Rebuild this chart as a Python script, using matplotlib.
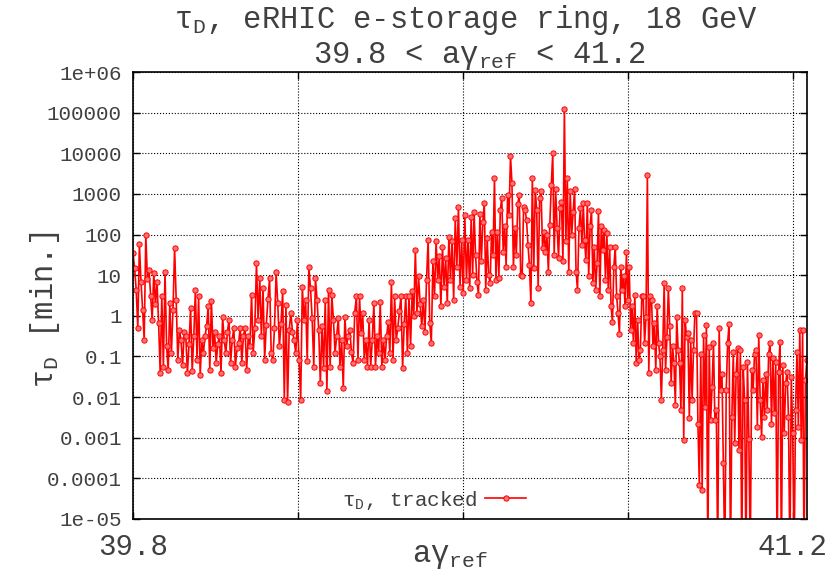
import numpy as np
import matplotlib
matplotlib.use('Agg')
import matplotlib.pyplot as plt

# tracked depolarization time in pieces (log10 of minutes)
# each piece: first aγ, last aγ, values in between at even steps
seg1_lim = (39.8000, 40.0342)
seg1_log = [1.54, 1.17, 0.64, -0.3, 1.76, 0.84, 0.15, -0.59, 2.0, 0.9,
            1.13, 0.5, -0.1, 1.05, 0.3, 0.84, -0.18, -1.41, 0.48, -1.25,
            1.09, -0.75, -1.33, 0.31, -0.92, 0.15, 1.66, 0.39, -1.08, -0.34,
            -0.6, -1.2, -0.4, -0.5, -1.41, -0.7, 0.19, -1.37, -0.5, 0.64,
            -1.08, 0.48, -1.45, -0.6, -0.92, -0.5, -0.26, 0.23, -1.33, 0.37,
            -0.8, -0.4, -1.16, -0.7, -0.5, -1.41, -0.02, -0.6, -0.92, -0.4,
            -0.1, -1.16, -0.6, -0.3, -1.25, -0.8, -0.67, -0.3, -1.16, -0.5]

seg2_lim = (40.0376, 40.2773)
seg2_log = [-0.3, -1.33, -0.5, -0.75, 0.52, -0.92, -0.3, 1.3, -0.1, 0.93,
            -0.5, 0.68, -1.08, -0.22, 0.41, 0.93, -0.92, -1.08, -0.3, 1.07,
            0.31, -0.75, -0.2, 0.6, -2.07, 0.27, -2.13, -0.34, 0.08, -0.4,
            -0.59, -0.92, -0.1, -1.08, -2.07, 0.72, -0.1, 0.39, -1.12, 1.21,
            0.68, -0.06, -1.25, 0.93, 0.39, -0.34, -1.66, -0.26, -1.29, 0.39,
            -1.86, 0.64, -1.25, 0.52, -0.1, -0.92, -0.5, -0.06, -1.25, -0.6,
            -1.78, -0.02, -0.75, -0.5, -0.34, -0.9, -1.16, 0.07, 0.48, -1.08]

seg3_lim = (40.2805, 40.5107)
seg3_log = [0.48, -0.43, 0.07, -1.08, -0.59, -1.25, -0.1, -1.25, -0.6, 0.31,
            -1.25, -0.5, -0.92, 0.34, -1.25, -0.59, -1.08, -0.5, -0.14, -0.92,
            0.82, -1.08, 0.48, -0.59, -0.3, 0.11, 0.48, -1.29, -0.2, 0.48,
            -0.92, 0.48, -0.75, 0.6, 0.0, 1.62, 0.07, 0.97, 0.3, -0.26,
            0.39, -0.39, 0.89, 1.87, -0.18, -0.67, 1.34, 0.48, 1.83, 0.89,
            1.46, 0.23, 1.7, 0.72, 1.42, 0.31, 1.95, 0.89, 1.83, 0.39,
            2.4, 1.21, 2.69, 0.72, 1.87, 0.56, 2.48, 0.89, 1.87]

seg4_lim = (40.5143, 40.7553)
seg4_log = [0.68, 2.44, 1.0, 2.56, 1.5, 0.84, 0.52, 2.5, 1.34, 2.32,
            2.77, 0.64, 1.91, 1.0, 0.8, 2.07, 1.5, 3.4, 0.89, 2.07,
            0.93, 2.6, 2.9, 1.58, 2.2, 1.21, 2.98, 2.48, 3.94, 3.26,
            1.21, 2.16, 1.5, 2.75, 2.98, 1.0, 0.97, 2.69, 2.6, 2.36,
            1.75, 1.25, 0.31, 3.4, 1.17, 3.1, 2.6, 0.68, 2.89, 3.06,
            1.66, 2.07, 1.58, 1.99, 1.09, 2.24, 3.22, 4.0, 1.5, 3.11,
            2.16, 1.42, 2.65, 2.81, 1.34, 5.09, 1.83, 3.4, 1.09, 3.06,
            1.99, 2.56, 3.12, 1.09, 0.64, 2.16, 2.65, 1.75, 2.77]

seg5_lim = (40.7578, 40.9920)
seg5_log = [1.87, 1.38, 2.77, 0.97, 2.2, 2.61, 0.8, 1.7, 0.64, 1.3,
            2.58, 0.48, 2.2, 1.62, 2.11, 0.89, 2.03, 0.64, 1.7, 0.23,
            -0.14, 1.21, 1.7, 0.48, 0.07, -0.45, 1.21, 0.64, 0.97, 0.23,
            1.57, 0.39, 1.21, -0.34, 0.23, -0.67, 0.52, -1.16, -0.1, -1.08,
            -0.84, 0.48, 0.48, -0.67, -0.02, 3.47, -1.41, 0.48, 0.39, -0.75,
            -0.18, -1.33, 0.23, -0.67, -1.0, -2.07, -0.84, 0.8, -1.33, -0.51,
            0.68, -0.26, -1.66, -0.75, -1.16, -2.19, -0.02, -0.84, -1.16, -2.31,
            0.68, -3.05, -0.1, -0.51, -0.43, -2.52, -0.59, -2.07, -0.84, 0.07]

# -6 = below the 1e-05 floor of the plot
seg6_lim = (40.9954, 41.2295)
seg6_log = [0.06, -2.65, -4.16, -0.93, -4.29, -0.48, -2.24, -0.23, -6, -0.76,
            -2.57, -1.75, -0.68, -2.57, -2.32, -6, -0.31, -1.83, -1.42, -3.63,
            -6, -1.83, -0.68, -0.19, -6, -2.48, -0.89, -3.14, -1.42, -0.8,
            -3.3, -0.84, -6, -1.25, -2.07, -6, -1.13, -3.02, -6, -1.34,
            -1.83, -0.93, -0.84, -2.73, -0.48, -2.07, -2.98, -1.58, -2.48, -1.42,
            -2.32, -0.93, -0.68, -2.65, -1.05, -2.4, -1.13, -6, -1.38, -0.64,
            -6, -1.21, -2.89, -1.66, -1.38, -2.48, -6, -1.5, -2.89, -6,
            -2.32, -0.89, -2.73, -0.34, -3.06, -0.34, -6, -1.58, -1.09]

segments = [(seg1_lim, seg1_log), (seg2_lim, seg2_log), (seg3_lim, seg3_log),
            (seg4_lim, seg4_log), (seg5_lim, seg5_log), (seg6_lim, seg6_log)]

agamma = np.concatenate([np.linspace(a, b, len(v)) for (a, b), v in segments])
tau = 10.0 ** np.concatenate([np.array(v, dtype=float) for _, v in segments])

ytick_vals = [1e-5, 1e-4, 1e-3, 1e-2, 1e-1, 1, 10, 100, 1000, 1e4, 1e5, 1e6]
ytick_text = ['1e-05', '0.0001', '0.001', '0.01', '0.1', '1', '10', '100',
              '1000', '10000', '100000', '1e+06']
xtick_vals = [39.8, 40.15, 40.5, 40.85, 41.2]
xtick_text = ['39.8', '', '', '', '41.2']

plt.rcParams['font.family'] = ['Liberation Mono', 'DejaVu Sans Mono']
plt.rcParams['mathtext.fontset'] = 'custom'
plt.rcParams['mathtext.rm'] = 'Liberation Mono'
plt.rcParams['mathtext.it'] = 'Liberation Mono'
plt.rcParams['mathtext.bf'] = 'Liberation Mono'
txt = '#404040'

fig = plt.figure(figsize=(8.37, 5.72), dpi=100)
ax = fig.add_axes([133 / 837, 53 / 572, 674 / 837, 447 / 572])

ax.plot(agamma, tau, '-o', color='#ff0000', lw=1.2, ms=3.8,
        mfc='#ff7070', mec='#ff0000', mew=0.7,
        label='τ$_\\mathrm{D}$, tracked')

ax.set_yscale('log')
ax.set_ylim(1e-5, 1e6)
ax.set_xlim(39.8, 41.2298)
ax.set_yticks(ytick_vals)
ax.set_yticklabels(ytick_text)
ax.yaxis.set_minor_locator(matplotlib.ticker.NullLocator())
ax.set_xticks(xtick_vals)
ax.set_xticklabels(xtick_text)

ax.grid(True, which='major', ls=':', color='black', lw=0.8)
ax.tick_params(axis='both', direction='in', top=True, right=True,
               length=5, width=1, colors='black', labelcolor=txt)
ax.tick_params(axis='y', labelsize=15, pad=8)
ax.tick_params(axis='x', labelsize=21, pad=10)
for s in ax.spines.values():
    s.set_linewidth(1.2)

fig.text(466 / 837, 1 - 20 / 572, 'τ$_\\mathrm{D}$, eRHIC e-storage ring, 18 GeV',
         ha='center', va='center', fontsize=22, color=txt)
fig.text(479 / 837, 1 - 56 / 572, '39.8 < aγ$_\\mathrm{ref}$ < 41.2',
         ha='center', va='center', fontsize=22, color=txt)
fig.text(45 / 837, 1 - 310 / 572, 'τ$_\\mathrm{D}$ [min.]', rotation=90,
         ha='center', va='center', fontsize=22, color=txt)
fig.text(450 / 837, 1 - 556 / 572, 'aγ$_\\mathrm{ref}$',
         ha='center', va='center', fontsize=22, color=txt)

leg = ax.legend(loc='center', bbox_to_anchor=(0.4466, 0.0425), frameon=False,
                markerfirst=False, handlelength=2.0, handletextpad=0.4,
                fontsize=15, borderpad=0)
for t in leg.get_texts():
    t.set_color(txt)

plt.savefig('out.png', dpi=100)
